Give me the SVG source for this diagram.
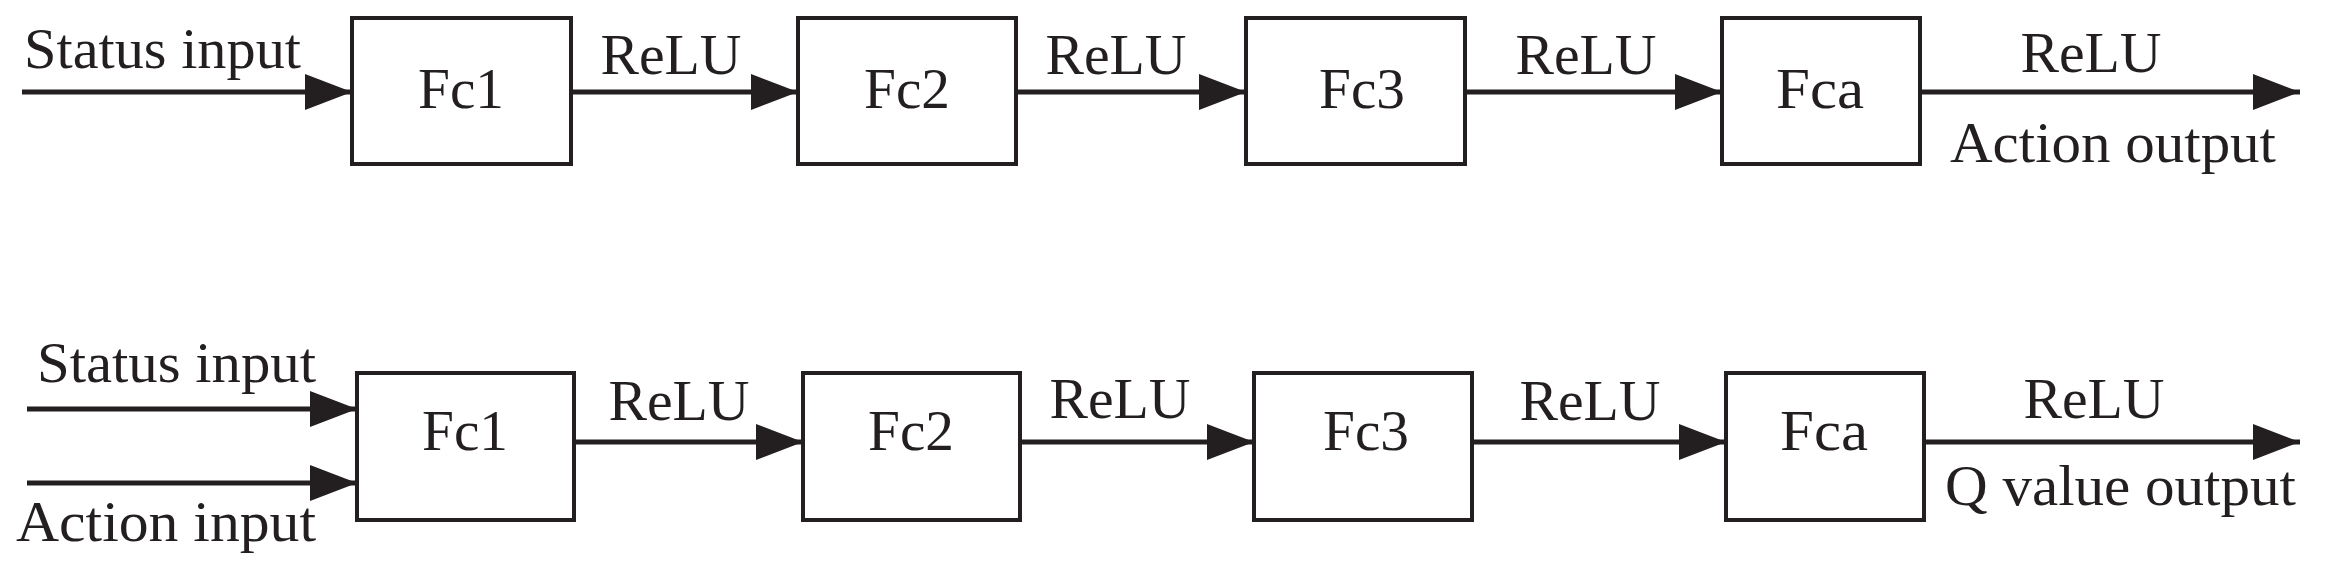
<svg xmlns="http://www.w3.org/2000/svg" width="2331" height="569" viewBox="0 0 2331 569">
<style>
.b{fill:#fff;stroke:#231f20;stroke-width:4}
.l{stroke:#231f20;stroke-width:5;fill:none}
text{font-family:"Liberation Serif","Times New Roman",serif;font-size:58px;fill:#231f20}
.c{text-anchor:middle}
</style>
<defs><marker id="a" markerUnits="userSpaceOnUse" markerWidth="48" markerHeight="36" refX="47" refY="18" orient="auto"><polygon points="0,0 47,18 0,36" fill="#231f20"/></marker></defs>
<rect width="2331" height="569" fill="#fff"/>
<g id="t1"><rect class="b" x="352" y="18" width="219" height="146"/><text class="c" x="461" y="108" textLength="86" lengthAdjust="spacingAndGlyphs">Fc1</text></g>
<g id="t2"><rect class="b" x="798" y="18" width="218" height="146"/><text class="c" x="907" y="108" textLength="86" lengthAdjust="spacingAndGlyphs">Fc2</text></g>
<g id="t3"><rect class="b" x="1246" y="18" width="219" height="146"/><text class="c" x="1362" y="108" textLength="86" lengthAdjust="spacingAndGlyphs">Fc3</text></g>
<g id="t4"><rect class="b" x="1722" y="18" width="198" height="146"/><text class="c" x="1820" y="108" textLength="88" lengthAdjust="spacingAndGlyphs">Fca</text></g>
<g id="b1"><rect class="b" x="357" y="373" width="217" height="147"/><text class="c" x="465" y="450" textLength="86" lengthAdjust="spacingAndGlyphs">Fc1</text></g>
<g id="b2"><rect class="b" x="803" y="373" width="217" height="147"/><text class="c" x="911" y="450" textLength="86" lengthAdjust="spacingAndGlyphs">Fc2</text></g>
<g id="b3"><rect class="b" x="1254" y="373" width="218" height="147"/><text class="c" x="1366" y="450" textLength="86" lengthAdjust="spacingAndGlyphs">Fc3</text></g>
<g id="b4"><rect class="b" x="1726" y="373" width="198" height="147"/><text class="c" x="1824" y="450" textLength="88" lengthAdjust="spacingAndGlyphs">Fca</text></g>
<g id="connectors">
<path class="l" marker-end="url(#a)" d="M22 92H352"/>
<path class="l" marker-end="url(#a)" d="M571 92H798"/>
<path class="l" marker-end="url(#a)" d="M1016 92H1246"/>
<path class="l" marker-end="url(#a)" d="M1465 92H1722"/>
<path class="l" marker-end="url(#a)" d="M1920 92H2300"/>
<path class="l" marker-end="url(#a)" d="M27 409H357"/>
<path class="l" marker-end="url(#a)" d="M27 483H357"/>
<path class="l" marker-end="url(#a)" d="M574 442H803"/>
<path class="l" marker-end="url(#a)" d="M1020 442H1254"/>
<path class="l" marker-end="url(#a)" d="M1472 442H1726"/>
<path class="l" marker-end="url(#a)" d="M1924 442H2300"/>
</g>
<text x="24" y="68" textLength="277" lengthAdjust="spacingAndGlyphs">Status input</text>
<text class="c" x="671" y="74" textLength="141" lengthAdjust="spacingAndGlyphs">ReLU</text>
<text class="c" x="1116" y="74" textLength="141" lengthAdjust="spacingAndGlyphs">ReLU</text>
<text class="c" x="1586" y="74" textLength="141" lengthAdjust="spacingAndGlyphs">ReLU</text>
<text class="c" x="2091" y="72" textLength="141" lengthAdjust="spacingAndGlyphs">ReLU</text>
<text x="1950" y="162" textLength="326" lengthAdjust="spacingAndGlyphs">Action output</text>
<text x="37" y="382" textLength="279" lengthAdjust="spacingAndGlyphs">Status input</text>
<text x="16" y="541" textLength="300" lengthAdjust="spacingAndGlyphs">Action input</text>
<text class="c" x="679" y="420" textLength="141" lengthAdjust="spacingAndGlyphs">ReLU</text>
<text class="c" x="1120" y="418" textLength="141" lengthAdjust="spacingAndGlyphs">ReLU</text>
<text class="c" x="1590" y="420" textLength="141" lengthAdjust="spacingAndGlyphs">ReLU</text>
<text class="c" x="2094" y="418" textLength="141" lengthAdjust="spacingAndGlyphs">ReLU</text>
<text x="1945" y="505" textLength="351" lengthAdjust="spacingAndGlyphs">Q value output</text>
</svg>
